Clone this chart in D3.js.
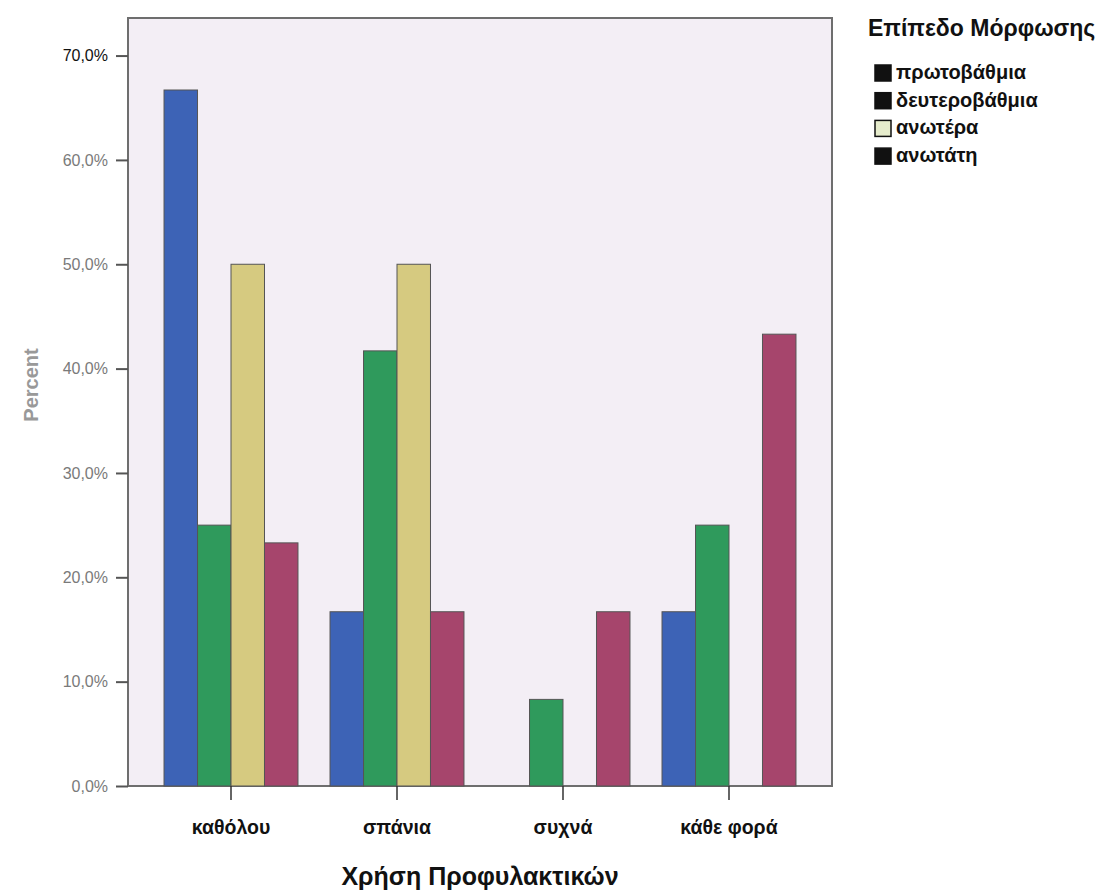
<!DOCTYPE html>
<html>
<head>
<meta charset="utf-8">
<script src="https://cdn.jsdelivr.net/npm/d3@7"></script>
<style>
  body { margin: 0; background: #fff; }
  .lab { font-family: "Liberation Sans Narrow", "Liberation Sans", Arial, sans-serif; font-weight: bold; }
</style>
</head>
<body>
<svg id="chart" width="1105" height="892"></svg>
<script>
// data
const categories = ["καθόλου", "σπάνια", "συχνά", "κάθε φορά"]
const levels = ["πρωτοβάθμια", "δευτεροβάθμια", "ανωτέρα", "ανωτάτη"]
const level_colors = ["#3d63b6", "#2f9a5c", "#d6ca80", "#a6456c"]
const legend_swatches = ["#111", "#111", "#e6eccc", "#111"]
const values = {
  "πρωτοβάθμια":   [66.7, 16.7, 0, 16.7],
  "δευτεροβάθμια": [25.0, 41.7, 8.3, 25.0],
  "ανωτέρα":       [50.0, 50.0, 0, 0],
  "ανωτάτη":       [23.3, 16.7, 16.7, 43.3]
}
const y_ticks = [0, 10, 20, 30, 40, 50, 60, 70]

const svg = d3.select("#chart")
const plot = { left: 128, right: 832, top: 18, bottom: 786 }

// scales
function make_scales() {
  return {
    x: d3.scaleBand()
      .domain(categories)
      .range([plot.left, plot.right])
      .paddingInner(0.193)
      .paddingOuter(0.217),
    y: d3.scaleLinear()
      .domain([0, 73.6])
      .range([plot.bottom, plot.top]),
    color: d3.scaleOrdinal().domain(levels).range(level_colors)
  }
}
let scales = make_scales()
scales.sub = d3.scaleBand().domain(levels).range([0, scales.x.bandwidth()])

// plot background + frame
svg.append("rect")
  .attr("x", plot.left).attr("y", plot.top)
  .attr("width", plot.right - plot.left).attr("height", plot.bottom - plot.top)
  .attr("fill", "#f3eef5")
  .attr("stroke", "#6e6e6e").attr("stroke-width", 2)

// bars
let rows = []
levels.forEach(l => categories.forEach((c, i) => rows.push({ level: l, cat: c, v: values[l][i] })))
svg.append("g").selectAll("rect")
  .data(rows.filter(d => d.v > 0)).enter()
  .append("rect")
  .attr("x", d => scales.x(d.cat) + scales.sub(d.level))
  .attr("y", d => scales.y(d.v))
  .attr("width", scales.sub.bandwidth())
  .attr("height", d => scales.y(0) - scales.y(d.v))
  .attr("fill", d => scales.color(d.level))
  .attr("stroke", "#555").attr("stroke-width", 1)

// y axis
let y_axis = d3.axisLeft(scales.y)
  .tickValues(y_ticks)
  .tickSize(12)
  .tickPadding(8)
  .tickFormat(d => d3.format(".1f")(d).replace(".", ",") + "%")
let gy = svg.append("g")
  .attr("transform", `translate(${plot.left}, 0)`)
  .call(y_axis)
gy.select(".domain").remove()
gy.selectAll("line").attr("stroke", "#555").attr("stroke-width", 2)
gy.selectAll("text")
  .attr("font-family", "'Liberation Sans', Arial, sans-serif")
  .attr("font-size", 16)
  .attr("fill", d => d === 70 ? "#111" : "#7a7a7a")

// x axis
let x_axis = d3.axisBottom(scales.x).tickSize(14).tickPadding(20)
let gx = svg.append("g")
  .attr("transform", `translate(0, ${plot.bottom})`)
  .call(x_axis)
gx.select(".domain").remove()
gx.selectAll("line").attr("stroke", "#333").attr("stroke-width", 1.5)
gx.selectAll("text")
  .attr("class", "lab")
  .attr("font-size", 19.5)
  .attr("fill", "#111")

// axis titles
svg.append("text")
  .attr("class", "lab")
  .attr("x", 480).attr("y", 885)
  .attr("text-anchor", "middle")
  .attr("font-size", 25)
  .attr("fill", "#111")
  .text("Χρήση Προφυλακτικών")

svg.append("text")
  .attr("transform", "translate(38, 385) rotate(-90)")
  .attr("text-anchor", "middle")
  .attr("font-family", "'Liberation Sans', Arial, sans-serif")
  .attr("font-size", 20)
  .attr("font-weight", "bold")
  .attr("fill", "#999")
  .text("Percent")

// legend
svg.append("text")
  .attr("class", "lab")
  .attr("x", 868).attr("y", 36)
  .attr("font-size", 23)
  .attr("fill", "#111")
  .text("Επίπεδο Μόρφωσης")

let lg = svg.append("g").selectAll("g")
  .data(levels).enter()
  .append("g")
  .attr("transform", (d, i) => `translate(875, ${65 + i * 27.7})`)
lg.append("rect")
  .attr("width", 16).attr("height", 16)
  .attr("fill", (d, i) => legend_swatches[i])
  .attr("stroke", "#111").attr("stroke-width", 1.5)
lg.append("text")
  .attr("class", "lab")
  .attr("x", 21).attr("y", 14)
  .attr("font-size", 20)
  .attr("fill", "#111")
  .text(d => d)
</script>
</body>
</html>
